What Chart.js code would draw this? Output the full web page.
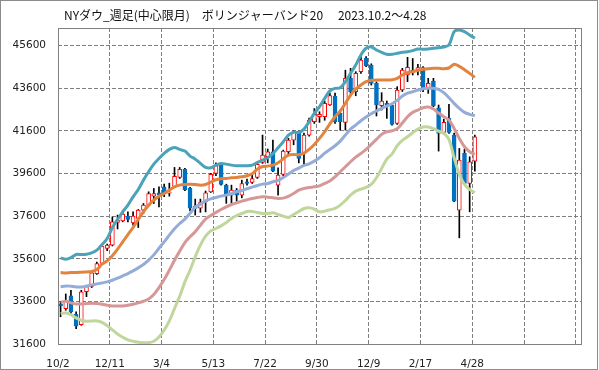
<!DOCTYPE html>
<html lang="ja">
<head>
<meta charset="UTF-8">
<title>NYダウ 週足 ボリンジャーバンド20</title>
<script src="https://cdn.jsdelivr.net/npm/chart.js"></script>
<style>
  html, body { margin: 0; padding: 0; background: #fff; }
  canvas { display: block; }
</style>
</head>
<body>
<canvas id="bbChart" width="599" height="370"></canvas>
<script>
// x-axis tick labels, one every 10 weeks (last two gridlines have none)
const tickLabels = ['10/2', '12/11', '3/4', '5/13', '7/22', '9/30', '12/9', '2/17', '4/28', '', ''];
const yTicks = [31600, 33600, 35600, 37600, 39600, 41600, 43600, 45600];

// weekly candles, 2023.10.2 - 2025.4.28
const opens = [33480, 33260, 33857, 32996, 32510, 34060, 34300, 34906, 35376, 36081,
  36237, 37300, 37380, 37600, 37286, 37490, 37882, 38116, 38539, 38696,
  38978, 38680, 38978, 39416, 39792, 38900, 38070, 37980, 38280, 38742,
  39604, 40027, 39056, 38586, 38820, 38586, 39212, 39181, 39416, 40120,
  40387, 40622, 39056, 39557, 40622, 41170, 41561, 40543, 41405, 42031,
  42266, 42266, 42815, 43238, 42424, 42000, 44067, 43441, 44381, 45007,
  44694, 43833, 42783, 42893, 42815, 41953, 43520, 44224, 44450, 44459,
  44569, 43566, 43942, 42689, 41530, 42188, 41405, 37882, 40544, 39135,
  40184];
const highs = [33600, 33950, 34123, 33105, 34123, 34360, 34990, 35450, 36250, 36290,
  37560, 37650, 37850, 37803, 37803, 37913, 38195, 38743, 38899, 38978,
  39100, 39150, 39886, 39886, 39839, 38950, 38400, 38400, 38780, 39604,
  40100, 40074, 39100, 39056, 38899, 39290, 39337, 39525, 40074, 41405,
  40750, 41170, 39870, 40700, 41250, 41600, 41600, 41500, 42200, 42650,
  42500, 43000, 43370, 43370, 42501, 44450, 44537, 44381, 45085, 45085,
  44750, 43900, 43394, 43003, 42846, 43676, 44537, 45054, 45000, 44725,
  44616, 44067, 44067, 42815, 42150, 42846, 41500, 40779, 40748, 40387,
  41405];
const lows = [32880, 33180, 33027, 32322, 32479, 33820, 34250, 34870, 35330, 35980,
  36200, 37000, 37333, 37333, 37177, 37067, 37725, 38070, 38195, 38038,
  38520, 38540, 38946, 39369, 38790, 37850, 37650, 37780, 37800, 38711,
  39500, 39056, 38200, 38225, 38300, 38460, 39056, 39134, 39369, 40074,
  40100, 39682, 38586, 39500, 40500, 40950, 40100, 40050, 41350, 41950,
  42000, 42100, 42800, 41950, 41640, 41640, 43363, 43250, 44300, 44616,
  43750, 42300, 42580, 42188, 41875, 41906, 43450, 43911, 44224, 44224,
  43441, 43363, 42736, 40654, 41450, 41484, 38274, 36582, 39088, 37804,
  39714];
const closes = [33390, 33620, 33105, 32432, 34045, 34290, 34940, 35376, 36190, 36237,
  37333, 37400, 37694, 37443, 37600, 37882, 38116, 38664, 38664, 38586,
  38700, 38720, 39470, 39792, 38840, 37980, 37960, 38240, 38700, 39557,
  39960, 39087, 38586, 38820, 38586, 39134, 39134, 39369, 40027, 40465,
  40622, 39713, 39525, 40653, 41170, 41561, 40309, 41405, 42109, 42376,
  42376, 42892, 43260, 42032, 42032, 44067, 43441, 44302, 44929, 44662,
  43833, 42815, 43003, 42815, 41906, 43520, 44459, 44584, 44400, 44569,
  43598, 43833, 42783, 41484, 42000, 41531, 38305, 40231, 39135, 40152,
  41327];

// bollinger bands (20 weeks)
const bandUp2 = [35642, 35579, 35658, 35799, 35799, 35814, 35877, 36002, 36268, 36550,
  37067, 37443, 37803, 38116, 38508, 38852, 39291, 39682, 40042, 40309,
  40544, 40732, 40825, 40732, 40653, 40420, 40277, 40074, 39886, 39870,
  39995, 40074, 40042, 39995, 39964, 39964, 39964, 39995, 40120, 40230,
  40340, 40528, 40809, 41091, 41405, 41530, 41530, 41686, 42031, 42422,
  42736, 43127, 43480, 43598, 43629, 43911, 44302, 44694, 45164, 45477,
  45540, 45399, 45289, 45195, 45195, 45242, 45289, 45320, 45367, 45446,
  45430, 45446, 45477, 45508, 45540, 45633, 46260, 46338, 46260, 46103,
  45947];
const bandUp1 = [34953, 34937, 34953, 34953, 34969, 34984, 35000, 35094, 35345, 35501,
  35736, 36049, 36394, 36738, 37067, 37443, 37803, 38116, 38351, 38539,
  38664, 38821, 38978, 39056, 39087, 39100, 39087, 39056, 39087, 39197,
  39306, 39353, 39369, 39400, 39416, 39447, 39494, 39588, 39807, 39933,
  39948, 39995, 40105, 40293, 40465, 40496, 40481, 40559, 40731, 40966,
  41248, 41561, 41930, 42267, 42533, 42893, 43284, 43566, 43754, 43911,
  43973, 43989, 43989, 43989, 44005, 44067, 44224, 44334, 44381, 44443,
  44490, 44522, 44537, 44537, 44522, 44553, 44725, 44631, 44475, 44302,
  44114];
const bandMid = [34280, 34327, 34311, 34280, 34280, 34311, 34374, 34421, 34467, 34514,
  34593, 34687, 34796, 34906, 35031, 35172, 35329, 35532, 35783, 36096,
  36394, 36707, 37004, 37255, 37459, 37730, 38022, 38163, 38320, 38414,
  38476, 38539, 38586, 38649, 38743, 38805, 38884, 38962, 39040, 39103,
  39134, 39212, 39275, 39416, 39572, 39745, 39854, 39980, 40058, 40183,
  40340, 40559, 40730, 40904, 41123, 41405, 41687, 41875, 42079, 42251,
  42408, 42533, 42658, 42768, 42877, 43034, 43237, 43378, 43441, 43519,
  43582, 43598, 43598, 43551, 43394, 43159, 42893, 42658, 42470, 42376,
  42314];
const bandDn1 = [33559, 33606, 33528, 33481, 33481, 33497, 33512, 33497, 33465, 33418,
  33387, 33387, 33387, 33418, 33465, 33528, 33606, 33716, 33920, 34248,
  34624, 35063, 35532, 35955, 36363, 36630, 36863, 37176, 37458, 37631,
  37772, 37912, 38038, 38147, 38225, 38304, 38367, 38429, 38476, 38508,
  38492, 38461, 38429, 38445, 38523, 38664, 38821, 38899, 38946, 38977,
  39024, 39134, 39250, 39448, 39683, 39918, 40152, 40372, 40544, 40732,
  40967, 41202, 41437, 41562, 41609, 41703, 41969, 42267, 42470, 42580,
  42689, 42721, 42627, 42439, 42267, 42110, 41718, 41249, 40857, 40622,
  40497];
const bandDn2 = [33027, 33058, 32980, 32823, 32714, 32667, 32682, 32682, 32620, 32463,
  32260, 32072, 31915, 31790, 31727, 31680, 31664, 31664, 31727, 31931,
  32244, 32682, 33262, 33841, 34515, 35060, 35689, 36237, 36660, 36910,
  37020, 37145, 37302, 37490, 37630, 37725, 37819, 37819, 37772, 37725,
  37725, 37756, 37678, 37600, 37537, 37678, 37819, 37960, 37991, 37928,
  37803, 37834, 37900, 37960, 38117, 38336, 38587, 38774, 38868, 38947,
  39088, 39401, 39839, 40278, 40513, 40904, 41155, 41327, 41515, 41687,
  41781, 41781, 41703, 41593, 41484, 41202, 40340, 39557, 39088, 38853,
  38696];

const titleText = 'NYダウ_週足(中心限月)　ボリンジャーバンド20　 2023.10.2～4.28';
const gridColor = '#808080';
const tickFont = { family: 'DejaVu Sans', size: 10.5 };

const isUp = i => closes[i] >= opens[i];

function band(values, color) {
  return {
    type: 'line',
    data: values.map((v, i) => ({ x: i, y: v })),
    borderColor: color,
    borderWidth: 3,
    pointRadius: 0,
    tension: 0.3,
    fill: false,
    order: 0
  };
}

// frame, plot border and title
const framePlugin = {
  id: 'frame',
  afterDraw(chart) {
    const { ctx, chartArea: a } = chart;
    ctx.save();
    ctx.strokeStyle = '#8c8c8c';
    ctx.lineWidth = 1;
    ctx.strokeRect(0.5, 0.5, chart.width - 2, chart.height - 1);
    ctx.strokeStyle = '#808080';
    ctx.strokeRect(a.left + 0.5, a.top + 0.5, a.right - a.left, a.bottom - a.top);
    ctx.fillStyle = '#111';
    ctx.font = '12px "Noto Sans CJK JP"';
    ctx.textBaseline = 'middle';
    ctx.fillText(titleText, 64, 15);
    ctx.restore();
  }
};

const ctx = document.getElementById('bbChart').getContext('2d');

new Chart(ctx, {
  type: 'bar',
  data: {
    datasets: [
      band(bandUp2, '#4aa3b8'),
      band(bandUp1, '#e2843d'),
      band(bandMid, '#94add8'),
      band(bandDn1, '#d69897'),
      band(bandDn2, '#c1d69c'),
      {
        // candle bodies
        data: opens.map((o, i) => ({ x: i, y: [Math.min(o, closes[i]), Math.max(o, closes[i])] })),
        backgroundColor: c => isUp(c.dataIndex) ? '#ffffff' : '#0070c0',
        borderColor: c => isUp(c.dataIndex) ? '#ff0000' : '#0070c0',
        borderWidth: 1,
        borderSkipped: false,
        barThickness: 4,
        minBarLength: 1,
        grouped: false,
        order: 1
      },
      {
        // wicks
        data: lows.map((l, i) => ({ x: i, y: [l, highs[i]] })),
        backgroundColor: '#000000',
        barThickness: 1,
        grouped: false,
        order: 2
      }
    ]
  },
  options: {
    responsive: false,
    animation: false,
    layout: { padding: { top: 28, right: 18, left: 0, bottom: 0 } },
    plugins: {
      legend: { display: false },
      tooltip: { enabled: false },
      title: { display: false }
    },
    scales: {
      x: {
        type: 'linear',
        min: -0.5,
        max: 100.5,
        offset: false,
        afterBuildTicks: s => { s.ticks = tickLabels.map((t, k) => ({ value: k * 10 - 0.5 })); },
        afterFit: s => { s.height = 26; },
        grid: { color: gridColor, drawTicks: false, offset: false },
        border: { display: false, dash: [4, 2] },
        ticks: {
          autoSkip: false,
          maxRotation: 0,
          padding: 14,
          color: '#222',
          font: tickFont,
          callback: (v, k) => tickLabels[k]
        }
      },
      y: {
        min: 31600,
        max: 46430,
        afterBuildTicks: s => { s.ticks = yTicks.map(v => ({ value: v })); },
        afterFit: s => { s.width = 58; },
        grid: { color: gridColor, drawTicks: false },
        border: { display: false, dash: [4, 2] },
        ticks: {
          padding: 12,
          color: '#222',
          font: tickFont,
          callback: v => String(v)
        }
      }
    }
  },
  plugins: [framePlugin]
});
</script>
</body>
</html>
